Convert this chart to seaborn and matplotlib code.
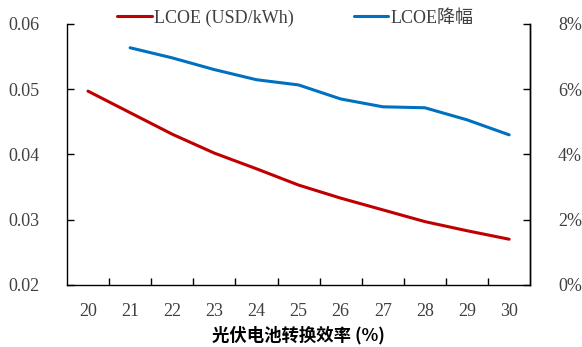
import matplotlib
matplotlib.use('Agg')
import matplotlib.pyplot as plt
import numpy as np
import pandas as pd
import seaborn as sns
from matplotlib import ticker

# data
efficiency = [20, 21, 22, 23, 24, 25, 26, 27, 28, 29, 30]
lcoe = [0.0497, 0.0464, 0.0431, 0.0402, 0.0378, 0.0353, 0.0333, 0.0315, 0.0297, 0.0283, 0.0270]
lcoe_drop = [np.nan, 7.27, 6.96, 6.60, 6.29, 6.13, 5.70, 5.46, 5.43, 5.06, 4.60]

RED = '#C00000'
BLUE = '#0070C0'
TXT = '#404040'
FS = 13

sns.set_style('white')
plt.rcParams['font.family'] = ['Liberation Serif', 'Noto Sans CJK SC']

df = pd.DataFrame({'eff': efficiency, 'lcoe': lcoe, 'drop': lcoe_drop})

fig = plt.figure(figsize=(5.82, 3.47), dpi=100)
ax = fig.add_axes([0.115, 0.179, 0.796, 0.752])
ax2 = ax.twinx()

sns.lineplot(x='eff', y='lcoe', data=df, ax=ax, color=RED, linewidth=2.2,
             label='LCOE (USD/kWh)', legend=False)
sns.lineplot(x='eff', y='drop', data=df.dropna(), ax=ax2, color=BLUE,
             linewidth=2.2, label='LCOE降幅', legend=False)

ax.set_xlim(19.5, 30.5)
ax.set_ylim(0.02, 0.06)
ax.set_yticks([0.02, 0.03, 0.04, 0.05, 0.06])
ax.yaxis.set_major_formatter(ticker.FormatStrFormatter('%.2f'))
ax2.set_ylim(0, 8)
ax2.set_yticks([0, 2, 4, 6, 8])
ax2.yaxis.set_major_formatter(ticker.FormatStrFormatter('%d%%'))

ax.set_xticks(efficiency)
ax.set_xticks(np.arange(20.5, 30.5, 1), minor=True)
ax.tick_params(axis='x', which='major', length=0, pad=13, labelsize=FS,
               labelcolor=TXT)
ax.tick_params(axis='x', which='minor', length=5, direction='in',
               bottom=True, color='black', width=1)
ax.tick_params(axis='y', length=5, direction='in', left=True, pad=20,
               labelsize=FS, labelcolor=TXT, color='black', width=1)
ax2.tick_params(axis='y', length=5, direction='in', right=True, pad=20,
                labelsize=FS, labelcolor=TXT, color='black', width=1)

for a in (ax, ax2):
    a.spines['top'].set_visible(False)
    for s in ('left', 'right', 'bottom'):
        a.spines[s].set_color('black')
        a.spines[s].set_linewidth(1)
    a.set_ylabel('')
    a.grid(False)
ax2.spines['left'].set_visible(False)
ax2.spines['bottom'].set_visible(False)

ax.set_xlabel('光伏电池转换效率 (%)', fontsize=12.5, fontweight='bold',
              family=['Noto Sans CJK SC', 'DejaVu Sans'], color='black',
              labelpad=4)

h1, l1 = ax.get_legend_handles_labels()
h2, l2 = ax2.get_legend_handles_labels()
fig.legend(h1 + h2, l1 + l2, loc='upper center', ncol=2, frameon=False,
           bbox_to_anchor=(0.508, 1.02), fontsize=FS, handlelength=1.9,
           handletextpad=0.15, columnspacing=3.3, labelcolor=TXT)

fig.savefig('out.png', dpi=100)
